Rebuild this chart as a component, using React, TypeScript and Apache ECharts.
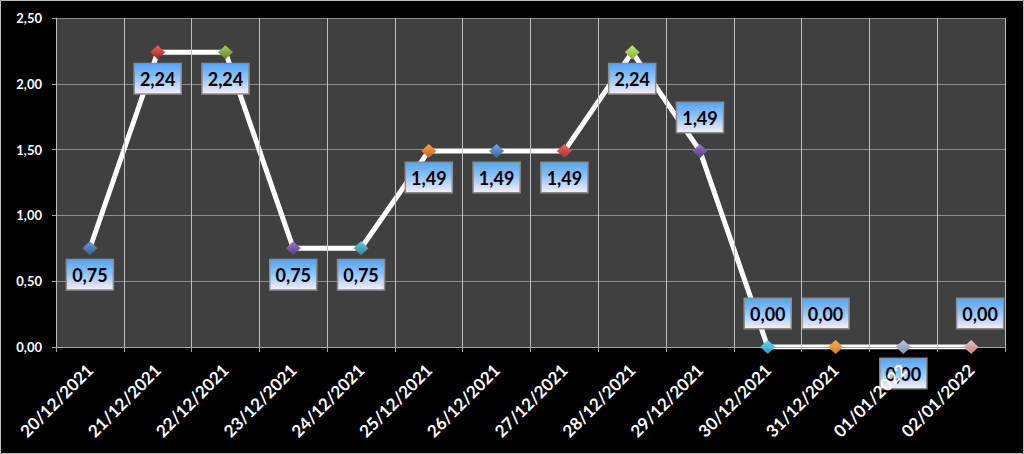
import React, { useEffect, useRef } from "react";
import * as echarts from "echarts";

const categories = [
  "20/12/2021", "21/12/2021", "22/12/2021", "23/12/2021", "24/12/2021",
  "25/12/2021", "26/12/2021", "27/12/2021", "28/12/2021", "29/12/2021",
  "30/12/2021", "31/12/2021", "01/01/2022", "02/01/2022",
];
const values = [0.75, 2.24, 2.24, 0.75, 0.75, 1.49, 1.49, 1.49, 2.24, 1.49, 0, 0, 0, 0];
const markerColors = [
  ["#6f9ad6", "#2c5f9e"], ["#e06a5e", "#a3231b"], ["#a7c96a", "#5f8a25"], ["#9a7cc4", "#553a85"],
  ["#6cc6d6", "#2a8a9c"], ["#f2a45a", "#c96212"], ["#79a4dc", "#3466aa"], ["#e66a6a", "#b52c2c"],
  ["#c2e47a", "#83b52c"], ["#9a7cc4", "#553a85"], ["#6ad6ec", "#1c9cbc"], ["#f7ae5c", "#e07a12"],
  ["#b8c8e0", "#7d92b6"], ["#e8c0c0", "#bf8a8a"],
];
const labelPositions = ["bottom", "bottom", "bottom", "bottom", "bottom", "bottom", "bottom", "bottom", "bottom", "top", "top", "top", "bottom", "top"];
const labelOffsets = [0, 0, 0, 0, 0, 0, 0, 0, 0, 0, 0, -10, 0, 9];
const yTicks = [0, 0.5, 1, 1.5, 2, 2.5];

const fmt = (v: number) => v.toFixed(2).replace(".", ",");

export default function App() {
  const ref = useRef<HTMLDivElement>(null);
  useEffect(() => {
    if (!ref.current) return;
    const chart = echarts.init(ref.current, null, { renderer: "svg" });
    const labelBg = new echarts.graphic.LinearGradient(0, 0, 0, 1, [
      { offset: 0, color: "#55a5ff" },
      { offset: 0.45, color: "#8cc2ff" },
      { offset: 1, color: "#f3ecf8" },
    ]);
    chart.setOption({
      animation: false,
      backgroundColor: "#000000",
      graphic: [
        {
          type: "rect",
          shape: { x: 0.5, y: 0.5, width: 1023, height: 453 },
          style: { fill: "none", stroke: "#bfbfbf", lineWidth: 1 },
          silent: true,
        },
      ],
      grid: { left: 56, right: 19, top: 18, bottom: 107, backgroundColor: "#404040", show: true, borderWidth: 0 },
      xAxis: {
        type: "category",
        data: categories,
        boundaryGap: true,
        z: 10,
        axisLine: { lineStyle: { color: "#a6a6a6", width: 1 } },
        axisTick: { show: true, length: 5, lineStyle: { color: "#a6a6a6" } },
        splitLine: { show: true, lineStyle: { color: "#bfbfbf", width: 1 } },
        axisLabel: {
          rotate: 45,
          color: "#ffffff",
          fontFamily: "Lato",
          fontWeight: "bold",
          fontSize: 17,
          margin: 20,
          interval: 0,
        },
      },
      yAxis: {
        type: "value",
        min: 0,
        max: 2.5,
        interval: 0.5,
        axisLine: { show: true, lineStyle: { color: "#a6a6a6", width: 1 } },
        axisTick: { show: true, length: 4, lineStyle: { color: "#a6a6a6" } },
        splitLine: { show: true, lineStyle: { color: "#8c8c8c", width: 1 } },
        axisLabel: {
          color: "#ffffff",
          fontFamily: "Lato",
          fontWeight: "bold",
          fontSize: 13,
          margin: 14,
          formatter: (v: number) => (yTicks.includes(v) ? fmt(v) : ""),
        },
      },
      series: [
        {
          type: "line",
          data: values.map((v, i) => ({
            value: v,
            itemStyle: {
              color: new echarts.graphic.LinearGradient(0, 0, 0, 1, [
                { offset: 0, color: markerColors[i][0] },
                { offset: 1, color: markerColors[i][1] },
              ]),
            },
            label: {
              position: labelPositions[i],
              offset: [labelOffsets[i], 0],
              distance: labelPositions[i] === "top" ? 12 : 5,
            },
          })),
          symbol: "diamond",
          symbolSize: [15, 14],
          lineStyle: { color: "#ffffff", width: 5 },
          z: 3,
          label: {
            show: true,
            formatter: (p: any) => fmt(p.value),
            color: "#000000",
            fontFamily: "Lato",
            fontWeight: "bold",
            fontSize: 18,
            lineHeight: 22,
            padding: [4, 5, 3, 5],
            backgroundColor: labelBg,
            borderColor: "#8c8c8c",
            borderWidth: 1.5,
          },
        },
      ],
    });
    return () => chart.dispose();
  }, []);
  return (
    <div
      ref={ref}
      style={{ position: "absolute", left: 0, top: 0, width: 1024, height: 454 }}
    />
  );
}
